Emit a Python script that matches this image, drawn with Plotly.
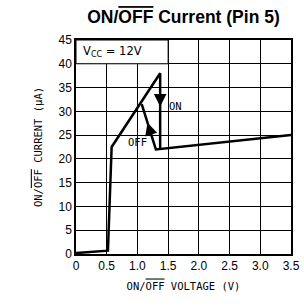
import plotly.graph_objects as go

# data
main_x = [0.0, 0.52, 0.58, 1.37, 1.37]
main_y = [0.2, 0.7, 22.5, 38.0, 22.2]
off_x = [1.07, 1.30, 3.5]
off_y = [31.5, 22.0, 25.0]
x_ticks = [0, 0.5, 1.0, 1.5, 2.0, 2.5, 3.0, 3.5]
x_tick_labels = ["0", "0.5", "1.0", "1.5", "2.0", "2.5", "3.0", "3.5"]
y_ticks = [0, 5, 10, 15, 20, 25, 30, 35, 40, 45]

OV = '<span style="text-decoration:overline">OFF</span>'
LBL = dict(family="DejaVu Sans Mono", size=10.5, color="black")

fig = go.Figure()
fig.add_trace(go.Scatter(x=main_x, y=main_y, mode="lines",
                         line=dict(color="black", width=2.5), showlegend=False))
fig.add_trace(go.Scatter(x=off_x, y=off_y, mode="lines",
                         line=dict(color="black", width=2.5), showlegend=False))

# white box for Vcc label in top row
fig.add_shape(type="rect", x0=0, x1=1.5, y0=40, y1=45, xref="x", yref="y",
              fillcolor="white", line=dict(color="black", width=1), layer="above")

fig.add_annotation(x=0.08, y=42.5, xref="x", yref="y", text="V<sub>CC</sub> = 12V",
                   showarrow=False, xanchor="left", yanchor="middle",
                   font=dict(family="DejaVu Sans", size=11.5, color="black"))

fig.add_annotation(x=1.48, y=31.2, xref="x", yref="y", text="ON", showarrow=False,
                   xanchor="left", yanchor="middle", font=LBL)
fig.add_annotation(x=1.0, y=23.6, xref="x", yref="y", text="OFF", showarrow=False,
                   xanchor="center", yanchor="middle", font=LBL)

# arrows
fig.add_annotation(x=1.37, y=31.0, ax=1.37, ay=33.5, xref="x", yref="y",
                   axref="x", ayref="y", text="", showarrow=True, arrowhead=2,
                   arrowsize=1.0, arrowwidth=2.5, arrowcolor="black")
fig.add_annotation(x=1.164, y=27.6, ax=1.20, ay=26.1, xref="x", yref="y",
                   axref="x", ayref="y", text="", showarrow=True, arrowhead=2,
                   arrowsize=1.0, arrowwidth=2.5, arrowcolor="black")

fig.update_layout(
    width=304, height=308,
    margin=dict(l=76, r=13, t=40, b=54, autoexpand=False),
    paper_bgcolor="white", plot_bgcolor="white",
    title=dict(text="<b>ON/" + OV + " Current (Pin 5)</b>", x=0.5, xref="paper",
               y=0.945, yanchor="middle", automargin=False,
               font=dict(family="Liberation Sans", size=17.5, color="black")),
    xaxis=dict(range=[0, 3.5], tickvals=x_ticks, ticktext=x_tick_labels,
               automargin=False,
               showgrid=True, gridcolor="black", gridwidth=1,
               showline=True, linecolor="black", linewidth=1.5, mirror=True,
               zeroline=False, ticks="", ticklen=0,
               tickfont=dict(family="Liberation Sans", size=12, color="black"),
               title=dict(text="ON/" + OV + " VOLTAGE (V)", standoff=10, font=LBL)),
    yaxis=dict(range=[0, 45], tickvals=y_ticks, automargin=False,
               showgrid=True, gridcolor="black", gridwidth=1,
               showline=True, linecolor="black", linewidth=1.5, mirror=True,
               zeroline=False, ticks="", ticklen=0,
               tickfont=dict(family="Liberation Sans", size=12, color="black"),
               title=dict(text="ON/" + OV + " CURRENT (μA)", standoff=14, font=LBL)),
)

fig.write_html("out.html", config={"displayModeBar": False},
               post_script="document.body.style.margin='0';document.body.style.padding='0';")
